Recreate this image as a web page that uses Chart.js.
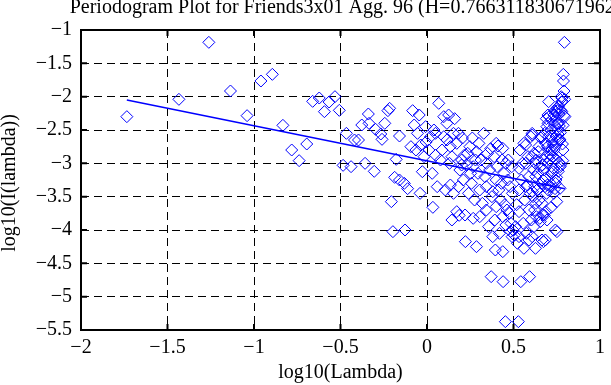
<!DOCTYPE html>
<html>
<head>
<meta charset="utf-8">
<script src="https://cdn.jsdelivr.net/npm/chart.js@4.4.1/dist/chart.umd.min.js"></script>
<style>
  html, body { margin: 0; padding: 0; background: #fff; }
  #wrap { width: 611px; height: 385px; }
</style>
</head>
<body>
<div id="wrap"><canvas id="periodogram" width="611" height="385"></canvas></div>
<script>
// log10(lambda), log10(I(lambda)) pairs
const lowFreq = [
  [-1.735,-2.30],[-1.434,-2.04],[-1.261,-1.185],[-1.136,-1.915],[-1.040,-2.285],[-0.960,-1.765],
  [-0.894,-1.665],[-0.833,-2.43],[-0.782,-2.80],[-0.739,-2.96],[-0.695,-2.71],[-0.661,-2.07],
  [-0.623,-2.02],[-0.593,-2.225],[-0.566,-2.08],[-0.532,-2.00],[-0.507,-2.205],[-0.485,-3.03],
  [-0.466,-2.55],[-0.439,-3.05],[-0.419,-2.65],[-0.396,-2.65],[-0.377,-2.425],[-0.358,-3.00],
  [-0.339,-2.26]
];
const midFreq = [
  [-0.335,-2.40],[-0.305,-3.12],[-0.297,-2.49],[-0.267,-2.56],[-0.260,-2.64],[-0.244,-2.40],
  [-0.226,-2.21],[-0.216,-2.175],[-0.206,-3.575],[-0.197,-4.025],[-0.187,-3.21],[-0.178,-2.94],
  [-0.159,-2.59],[-0.159,-3.25],[-0.131,-3.30],[-0.127,-4.00],[-0.112,-3.38],[-0.093,-2.75],
  [-0.083,-2.21],[-0.074,-2.425],[-0.064,-2.80],[-0.055,-2.55],[-0.045,-2.275],[-0.040,-3.45],
  [-0.036,-2.725],[-0.027,-3.125],[-0.017,-2.90],[-0.008,-2.45],[-0.005,-2.68],[0.011,-2.80],
  [0.021,-2.60],[0.030,-3.15],[0.034,-3.66],[0.040,-2.50],[0.049,-2.55],[0.050,-2.88],
  [0.059,-3.35],[0.068,-2.10],[0.078,-2.95],[0.087,-2.80],[0.097,-2.30],[0.097,-2.60],
  [0.106,-3.40],[0.115,-2.40],[0.115,-2.65],[0.125,-2.275],[0.130,-3.00],[0.135,-2.75],
  [0.135,-3.325],[0.144,-2.90],[0.144,-3.85],[0.153,-2.55],[0.153,-3.45],[0.160,-2.33],
  [0.172,-2.70],[0.172,-3.725],[0.182,-2.55],[0.182,-3.35],[0.186,-3.78],[0.190,-3.10],
  [0.200,-3.025],[0.200,-2.95]
];
const upperFreq = [
  [0.205,-2.62],[0.210,-3.25],[0.215,-2.88],[0.220,-3.775],[0.222,-4.175],[0.229,-3.025],
  [0.235,-2.85],[0.240,-3.45],[0.248,-2.75],[0.252,-3.15],[0.257,-3.30],[0.262,-2.62],
  [0.267,-3.05],[0.267,-3.825],[0.275,-3.55],[0.280,-2.95],[0.286,-2.825],[0.286,-4.25],
  [0.295,-3.15],[0.300,-2.70],[0.305,-3.40],[0.305,-3.80],[0.312,-2.95],[0.320,-3.60],
  [0.328,-2.55],[0.335,-3.20],[0.343,-3.00],[0.343,-3.35],[0.343,-3.70],[0.350,-2.85],
  [0.356,-3.95],[0.362,-3.10],[0.368,-2.78],[0.371,-4.70],[0.375,-3.50],[0.380,-3.425],
  [0.380,-4.10],[0.388,-2.90],[0.392,-3.85],[0.395,-4.30],[0.400,-2.70],[0.400,-3.25],
  [0.400,-3.65],[0.405,-3.05],[0.410,-2.74],[0.415,-3.40],[0.419,-4.05],[0.425,-3.55],
  [0.430,-3.30],[0.434,-2.95],[0.438,-2.775],[0.438,-3.80],[0.438,-4.325],[0.440,-4.775],
  [0.445,-3.15],[0.450,-3.62],[0.453,-5.375],[0.456,-3.00],[0.456,-3.925],[0.462,-3.70],
  [0.466,-3.25],[0.470,-2.95],[0.476,-3.75],[0.480,-3.35],[0.483,-4.02],[0.485,-3.90],
  [0.490,-3.05],[0.492,-4.10],[0.494,-3.45],[0.497,-4.00]
];
const highFreqA = [
  [0.505,-4.08],[0.512,-3.95],[0.518,-3.62],[0.523,-4.20],[0.528,-5.375],[0.532,-3.075],
  [0.532,-3.40],[0.532,-3.725],[0.532,-4.10],[0.538,-2.80],[0.542,-4.775],[0.545,-3.25],
  [0.551,-3.00],[0.556,-3.90],[0.560,-2.70],[0.560,-4.275],[0.565,-3.55],[0.570,-2.725],
  [0.570,-3.00],[0.570,-3.35],[0.575,-4.05],[0.580,-3.325],[0.584,-2.90],[0.589,-3.20],
  [0.589,-3.70],[0.589,-4.15],[0.593,-4.70],[0.597,-3.45],[0.600,-2.60],[0.608,-2.575]
];
const highFreqB = [
  [0.603,-3.85],[0.606,-2.90],[0.608,-4.10],[0.608,-2.55],[0.610,-3.425],[0.613,-3.50],
  [0.616,-3.10],[0.618,-3.95],[0.620,-2.85],[0.622,-3.70],[0.624,-3.35],[0.626,-3.00],
  [0.627,-4.275],[0.628,-3.20],[0.630,-3.60],[0.631,-2.95],[0.632,-3.80],[0.636,-3.40],
  [0.640,-3.15],[0.643,-2.825],[0.646,-2.75],[0.648,-3.55],[0.652,-3.825],[0.655,-3.05],
  [0.655,-3.875],[0.658,-2.62],[0.661,-3.30],[0.663,-2.60],[0.665,-4.15],[0.665,-3.60],
  [0.667,-3.025],[0.669,-3.775],[0.671,-3.25],[0.673,-4.175],[0.675,-2.95],[0.677,-3.10],
  [0.678,-3.78],[0.680,-2.55],[0.682,-3.35],[0.684,-3.225],[0.684,-4.15],[0.686,-2.70],
  [0.688,-3.725],[0.690,-2.33],[0.691,-3.45],[0.693,-2.45],[0.693,-2.90],[0.694,-3.85],
  [0.696,-3.325],[0.697,-2.75],[0.698,-3.00],[0.699,-2.275],[0.700,-2.40],[0.701,-3.40]
];
const highFreqC = [
  [0.703,-2.075],[0.704,-2.60],[0.706,-2.30],[0.708,-2.80],[0.710,-2.95],[0.712,-3.35],
  [0.714,-2.88],[0.716,-2.50],[0.718,-3.66],[0.720,-2.35],[0.720,-3.15],[0.721,-2.60],
  [0.722,-2.80],[0.724,-2.68],[0.726,-2.90],[0.728,-3.125],[0.730,-3.075],[0.731,-2.725],
  [0.733,-3.45],[0.734,-2.275],[0.735,-2.80],[0.737,-2.425],[0.738,-2.21],[0.739,-2.75],
  [0.740,-3.38],[0.740,-2.225],[0.742,-4.00],[0.743,-3.30],[0.745,-3.25],[0.746,-2.59],
  [0.747,-2.94],[0.749,-3.21],[0.750,-3.575],[0.751,-4.025],[0.752,-2.175],[0.753,-2.21],
  [0.755,-2.40],[0.756,-2.64],[0.757,-2.56],[0.758,-2.49],[0.759,-3.12],[0.760,-2.15],
  [0.761,-2.40],[0.762,-2.26],[0.764,-2.99],[0.765,-2.44],[0.767,-2.64],[0.768,-2.65],
  [0.769,-3.375],[0.770,-3.05],[0.771,-2.54],[0.773,-3.02],[0.774,-2.205],[0.776,-2.00],
  [0.778,-2.08],[0.779,-2.225],[0.780,-2.02],[0.782,-2.07],[0.783,-2.71],[0.785,-2.96],
  [0.786,-2.80],[0.787,-2.43],[0.788,-1.665],[0.789,-1.765],[0.791,-2.285],[0.792,-1.915],
  [0.794,-1.185],[0.796,-2.04],[0.797,-2.30]
];
// least-squares fit, ends
const fitLine = [[-1.735,-2.05],[0.797,-3.38]];

const xTicks = [-2, -1.5, -1, -0.5, 0, 0.5, 1];
const yTicks = [-5.5, -5, -4.5, -4, -3.5, -3, -2.5, -2, -1.5, -1];

const titleText = 'Periodogram Plot for Friends3x01 Agg. 96 (H=0.766311830671962)';
const xTitle = 'log10(Lambda)';
const yTitle = 'log10(I(lambda))';

const FONT = '"Liberation Serif", "Times New Roman", serif';
const BLUE = '#0000ff';

function toXY(pairs) {
  return pairs.map(p => ({ x: p[0], y: p[1] }));
}
function fmt(v) {
  return String(v).replace('-', '\u2212');
}

const allPoints = [].concat(lowFreq, midFreq, upperFreq, highFreqA, highFreqB, highFreqC);

// frame, inward tick marks and the three texts
const framePlugin = {
  id: 'frame',
  afterDraw(chart) {
    const { ctx, chartArea: a, scales } = chart;
    ctx.save();
    ctx.strokeStyle = '#000';
    ctx.lineWidth = 2;
    ctx.setLineDash([]);
    ctx.strokeRect(a.left, a.top, a.right - a.left, a.bottom - a.top);
    ctx.beginPath();
    xTicks.forEach(v => {
      const px = scales.x.getPixelForValue(v);
      ctx.moveTo(px, a.bottom); ctx.lineTo(px, a.bottom - 6);
      ctx.moveTo(px, a.top); ctx.lineTo(px, a.top + 6);
    });
    yTicks.forEach(v => {
      const py = scales.y.getPixelForValue(v);
      ctx.moveTo(a.left, py); ctx.lineTo(a.left + 6, py);
      ctx.moveTo(a.right, py); ctx.lineTo(a.right - 6, py);
    });
    ctx.stroke();

    const cx = (a.left + a.right) / 2;
    ctx.fillStyle = '#000';
    ctx.font = '20px ' + FONT;
    ctx.textAlign = 'center';
    ctx.textBaseline = 'alphabetic';
    ctx.fillText(titleText, cx + 5, 13);
    ctx.fillText(xTitle, cx, 378);
    ctx.translate(15, 183);
    ctx.rotate(-Math.PI / 2);
    ctx.fillText(yTitle, 0, 0);
    ctx.restore();
  }
};

new Chart(document.getElementById('periodogram'), {
  type: 'scatter',
  data: {
    datasets: [
      {
        label: 'periodogram',
        data: toXY(allPoints),
        pointStyle: 'rectRot',
        pointRadius: 6,
        borderColor: BLUE,
        backgroundColor: 'rgba(0,0,0,0)',
        borderWidth: 1
      },
      {
        type: 'line',
        label: 'fit',
        data: toXY(fitLine),
        borderColor: BLUE,
        borderWidth: 1.5,
        pointRadius: 0,
        fill: false
      }
    ]
  },
  options: {
    responsive: false,
    animation: false,
    devicePixelRatio: 1,
    events: [],
    layout: { padding: { top: 30, right: 2, left: 0, bottom: 0 } },
    plugins: { legend: { display: false }, tooltip: { enabled: false } },
    scales: {
      x: {
        type: 'linear',
        min: -2, max: 1,
        afterFit: s => { s.height = 55; },
        afterBuildTicks: s => { s.ticks = xTicks.map(v => ({ value: v })); },
        ticks: {
          color: '#000', padding: 6,
          font: { family: FONT, size: 20 },
          callback: v => fmt(v)
        },
        grid: { color: '#000', lineWidth: 1, drawTicks: false },
        border: { display: false, dash: [8, 5] }
      },
      y: {
        type: 'linear',
        min: -5.5, max: -1,
        afterFit: s => { s.width = 81; },
        afterBuildTicks: s => { s.ticks = yTicks.map(v => ({ value: v })); },
        ticks: {
          color: '#000', padding: 9,
          font: { family: FONT, size: 20 },
          callback: v => fmt(v)
        },
        grid: { color: '#000', lineWidth: 1, drawTicks: false },
        border: { display: false, dash: [8, 5] }
      }
    }
  },
  plugins: [framePlugin]
});
</script>
</body>
</html>
